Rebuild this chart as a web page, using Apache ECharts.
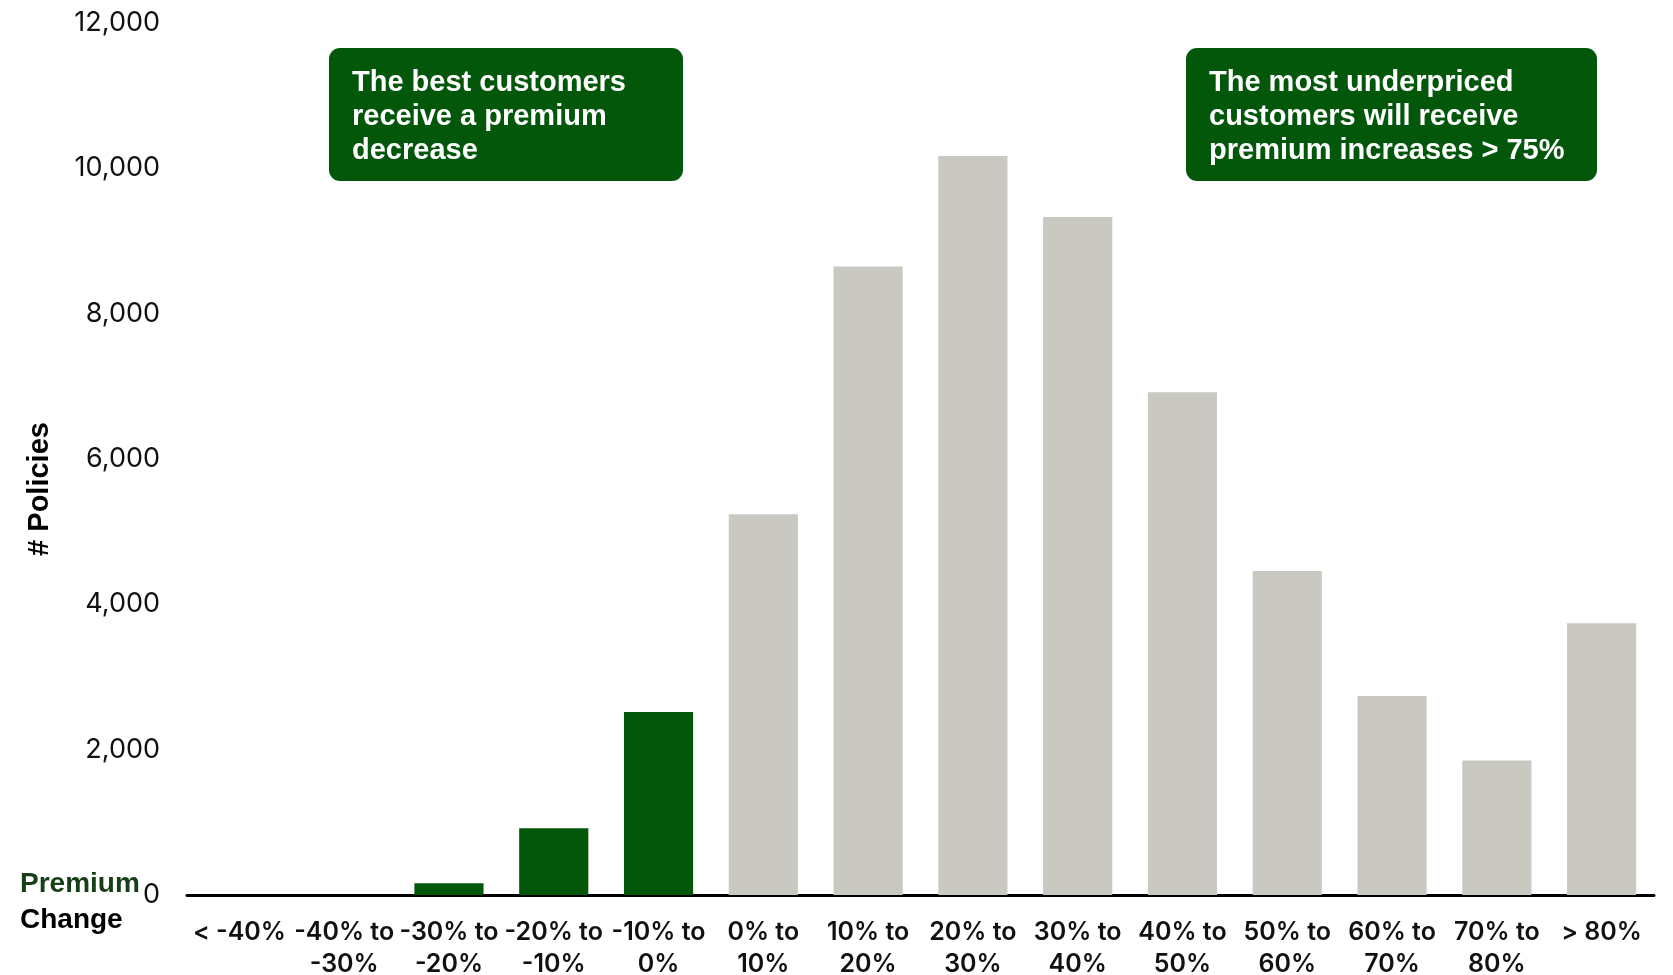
<!DOCTYPE html>
<html>
<head>
<meta charset="utf-8">
<script src="https://cdn.jsdelivr.net/npm/echarts@6/dist/echarts.min.js"></script>
<style>
  html, body { margin: 0; padding: 0; background: #ffffff; }
  #chart { width: 1673px; height: 975px; }
</style>
</head>
<body>
<div id="chart"></div>
<script>
// Premium change buckets and number of policies in each
const categories = ['< -40%', '-40% to -30%', '-30% to -20%', '-20% to -10%', '-10% to 0%',
  '0% to 10%', '10% to 20%', '20% to 30%', '30% to 40%', '40% to 50%',
  '50% to 60%', '60% to 70%', '70% to 80%', '> 80%'];
const policies = [0, 0, 160, 920, 2520, 5240, 8650, 10170, 9330, 6920, 4460, 2740, 1850, 3740];
const yTicks = [0, 2000, 4000, 6000, 8000, 10000, 12000];
const noteDecrease = ['The best customers', 'receive a premium', 'decrease'];
const noteIncrease = ['The most underpriced', 'customers will receive', 'premium increases > 75%'];

const GREEN = '#02570a';
const GREY = '#c9c9c1';
const BOLD = '"Liberation Sans", Arial, sans-serif';

// buckets whose upper bound is at or below 0% are premium decreases
function isDecrease(label) {
  return label.startsWith('<') || / to (-\d+%|0%)$/.test(label);
}

const chart = echarts.init(document.getElementById('chart'), null, { renderer: 'canvas' });

function note(x, y, w, h, lines) {
  return {
    type: 'group', x: x, y: y,
    children: [
      { type: 'rect', shape: { x: 0, y: 0, width: w, height: h, r: 11 }, style: { fill: GREEN } },
      { type: 'text', x: 23, y: 18, style: {
          text: lines.join('\n'), fill: '#ffffff',
          font: 'bold 29px ' + BOLD, lineHeight: 34 } }
    ]
  };
}

chart.setOption({
  animation: false,
  grid: { left: 187, right: 19, top: 23, bottom: 80, outerBoundsMode: 'none', containLabel: false },
  xAxis: {
    type: 'category',
    data: categories,
    axisLine: { lineStyle: { color: '#000', width: 3 } },
    axisTick: { show: false },
    axisLabel: {
      interval: 0, margin: 21,
      color: '#111', fontFamily: 'Inter', fontSize: 25, fontWeight: 600, lineHeight: 32,
      formatter: v => v.replace(' to ', ' to\n')
    }
  },
  yAxis: {
    type: 'value',
    min: yTicks[0], max: yTicks[yTicks.length - 1], interval: yTicks[1] - yTicks[0],
    splitLine: { show: false },
    axisLine: { show: false },
    axisTick: { show: false },
    axisLabel: {
      margin: 27, color: '#111', fontFamily: 'Inter', fontSize: 27,
      formatter: v => v.toLocaleString('en-US')
    }
  },
  series: [{
    type: 'bar',
    data: policies,
    barCategoryGap: '34%',
    itemStyle: { color: p => isDecrease(categories[p.dataIndex]) ? GREEN : GREY }
  }],
  graphic: [
    note(329, 48, 354, 133, noteDecrease),
    note(1186, 48, 411, 133, noteIncrease),
    { type: 'text', x: 40, y: 489, rotation: Math.PI / 2, style: {
        text: '# Policies', fill: '#000', align: 'center', verticalAlign: 'middle',
        font: 'bold 29px ' + BOLD } },
    { type: 'text', left: 20, top: 870, style: {
        text: 'Premium', fill: '#173f17', font: 'bold 28px ' + BOLD } },
    { type: 'text', left: 20, top: 906, style: {
        text: 'Change', fill: '#000', font: 'bold 28px ' + BOLD } }
  ]
});
</script>
</body>
</html>
